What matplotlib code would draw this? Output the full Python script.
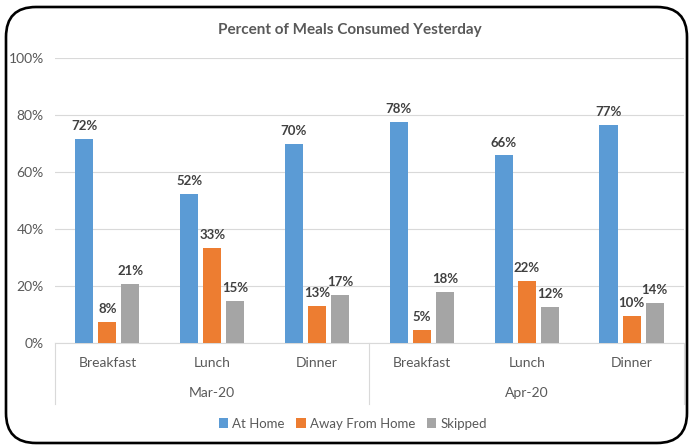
import numpy as np
import matplotlib.pyplot as plt
from matplotlib.patches import FancyBboxPatch

plt.rcParams['font.family'] = ['Lato', 'DejaVu Sans']

months = ["Mar-20", "Apr-20"]
meals = ["Breakfast", "Lunch", "Dinner"]
at_home = [71.6, 52.2, 69.8, 77.6, 65.8, 76.6]
away = [7.5, 33.4, 13.0, 4.6, 21.8, 9.5]
skipped = [20.6, 14.6, 16.9, 17.8, 12.5, 14.0]
series_names = ["At Home", "Away From Home", "Skipped"]
colors = ["#5B9BD5", "#ED7D31", "#A5A5A5"]
text_col = "#595959"

fig = plt.figure(figsize=(6.89, 4.45), dpi=100)
ax = fig.add_axes([0.0798, 0.2292, 0.9129, 0.6405])

x = np.arange(len(at_home))
w = 0.172
step = 0.22
for i, (vals, name, c) in enumerate(zip([at_home, away, skipped], series_names, colors)):
    pos = x + (i - 1) * step
    ax.bar(pos, vals, width=w, color=c, label=name, zorder=3)
    for px, v in zip(pos, vals):
        ax.annotate('%.0f%%' % v, (px, v), xytext=(0, 5), textcoords='offset points',
                    ha='center', va='bottom', fontsize=9.5, fontweight='bold', color='#404040')

ax.set_xlim(-0.5, len(at_home) - 0.5)
ax.set_ylim(0, 100)
ax.set_yticks(range(0, 101, 20))
ax.set_yticklabels(['%d%%' % t for t in range(0, 101, 20)], color=text_col, fontsize=10)
ax.yaxis.grid(True, color='#D9D9D9', lw=0.8, zorder=0)
ax.tick_params(axis='y', length=0, pad=8)
ax.set_xticks([])
for s in ['top', 'right', 'left']:
    ax.spines[s].set_visible(False)
ax.spines['bottom'].set_color('#D9D9D9')

# two-level category axis
tr = ax.get_xaxis_transform()
for j, m in enumerate(meals * len(months)):
    ax.text(j, -0.07, m, transform=tr, ha='center', va='center', fontsize=10, color=text_col)
for k, mo in enumerate(months):
    ax.text(k * 3 + 1, -0.175, mo, transform=tr, ha='center', va='center', fontsize=10, color=text_col)
for b in [-0.5, 2.5, 5.5]:
    ax.plot([b, b], [0, -0.214], transform=tr, color='#D9D9D9', lw=0.8, clip_on=False)

fig.text(0.508, 0.932, "Percent of Meals Consumed Yesterday", ha='center', va='center',
         fontsize=11, fontweight='bold', color=text_col)

fig.legend(loc='center', bbox_to_anchor=(0.512, 0.048), ncol=3, frameon=False,
           handlelength=0.7, handleheight=0.7, handletextpad=0.3, columnspacing=0.9,
           fontsize=9.5, labelcolor=text_col)

border = FancyBboxPatch((6, 2), 681, 436, boxstyle="round,pad=0,rounding_size=30",
                        transform=None, fill=False, ec='black', lw=1.9)
fig.patches.append(border)

fig.savefig("out.png", dpi=100)
